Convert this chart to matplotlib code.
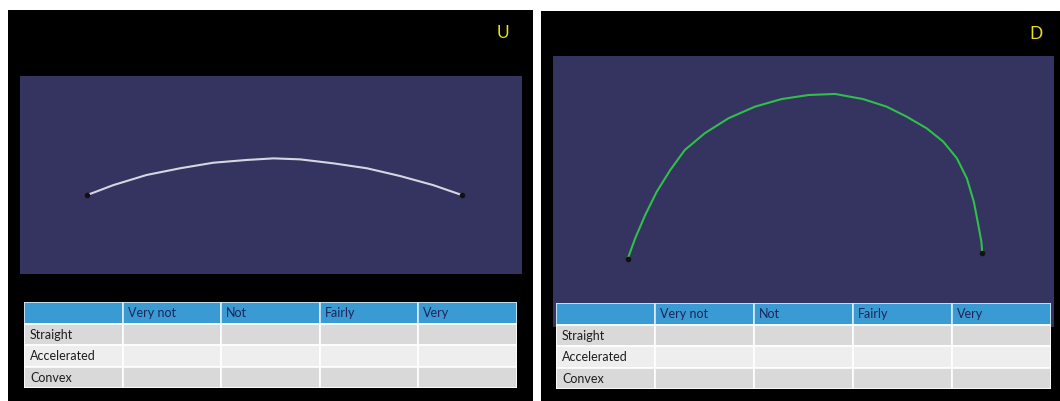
import matplotlib
matplotlib.use('Agg')
import matplotlib.pyplot as plt
from matplotlib.patches import Rectangle

W, H = 1060, 401

# curves (x, y in % of the purple plot area)
u_x = [13.4, 18.6, 25.2, 31.9, 38.5, 45.2, 50.5, 55.8, 62.4, 69.1,
       75.7, 82.3, 88.0]
u_y = [39.9, 44.9, 50.0, 53.4, 56.2, 57.6, 58.4, 57.9, 55.9, 53.4,
       49.5, 44.9, 39.9]

d_x = [14.9, 16.4, 18.4, 20.7, 23.4, 26.3, 30.3, 35.0, 40.3, 45.6,
       51.0, 56.3, 61.9, 66.6, 70.6, 74.6, 77.9, 80.6, 82.6, 84.0,
       84.9, 85.5, 85.7]
d_y = [25.1, 32.7, 41.3, 49.9, 57.9, 65.3, 71.5, 77.0, 81.3, 84.1,
       85.6, 86.0, 84.1, 81.3, 77.6, 73.3, 68.4, 62.3, 54.9, 46.2,
       37.6, 31.5, 27.2]

col_labels = ['', 'Very not', 'Not', 'Fairly', 'Very']
row_labels = ['Straight', 'Accelerated', 'Convex']

FONT = 'Lato'
PURPLE = '#35335f'
HEADER = '#3a9ad3'
ROW_COLORS = ['#d9d9d9', '#eeeeee', '#d9d9d9']


def box(x0, y0, x1, y1):
    # pixel box (top-left origin) -> figure fraction rect
    return [x0 / W, 1 - y1 / H, (x1 - x0) / W, (y1 - y0) / H]


def blank(ax, color):
    ax.set_facecolor(color)
    ax.set_xticks([]); ax.set_yticks([])
    for s in ax.spines.values():
        s.set_visible(False)


def draw_table(ax):
    ncol, nrow = len(col_labels), len(row_labels) + 1
    ax.set_xlim(0, ncol); ax.set_ylim(nrow, 0)
    blank(ax, 'black')
    for j, lab in enumerate(col_labels):
        ax.add_patch(Rectangle((j, 0), 1, 1, facecolor=HEADER,
                               edgecolor='#dcecf8', lw=1.2))
        ax.text(j + 0.05, 0.52, lab, va='center', ha='left',
                fontsize=9, color='#1c2658', family=FONT)
    for i, lab in enumerate(row_labels):
        for j in range(ncol):
            ax.add_patch(Rectangle((j, i + 1), 1, 1,
                                   facecolor=ROW_COLORS[i],
                                   edgecolor='white', lw=1.2))
        ax.text(0.06, i + 1.52, lab, va='center', ha='left',
                fontsize=9, color='#1e1e1e', family=FONT)


def draw_panel(panel, plot, table, label, lab_xy, xs, ys, color):
    bg = fig.add_axes(box(*panel))
    blank(bg, 'black')
    fig.text(lab_xy[0] / W, 1 - lab_xy[1] / H, label, ha='center',
             va='center', fontsize=12.5, color='#e8e21a', family=FONT)

    ax = fig.add_axes(box(*plot))
    blank(ax, PURPLE)
    ax.set_xlim(0, 100); ax.set_ylim(0, 100)
    ax.plot(xs, ys, '-', color=color, lw=1.5, solid_capstyle='round',
            solid_joinstyle='round')
    ax.plot([xs[0], xs[-1]], [ys[0], ys[-1]], 'o', color='#111111',
            markersize=3)

    tab = fig.add_axes(box(*table))
    draw_table(tab)


fig = plt.figure(figsize=(W / 100, H / 100), dpi=100)
fig.patch.set_facecolor('white')

draw_panel((8, 10, 533, 401), (20, 76, 522, 274), (24, 302, 517, 388),
           'U', (503, 33), u_x, u_y, '#d6d6e2')
draw_panel((541, 11, 1060, 401), (553, 56, 1054, 327), (556, 303, 1051, 389),
           'D', (1036, 34), d_x, d_y, '#2fbf4a')

fig.savefig('out.png', dpi=100)
